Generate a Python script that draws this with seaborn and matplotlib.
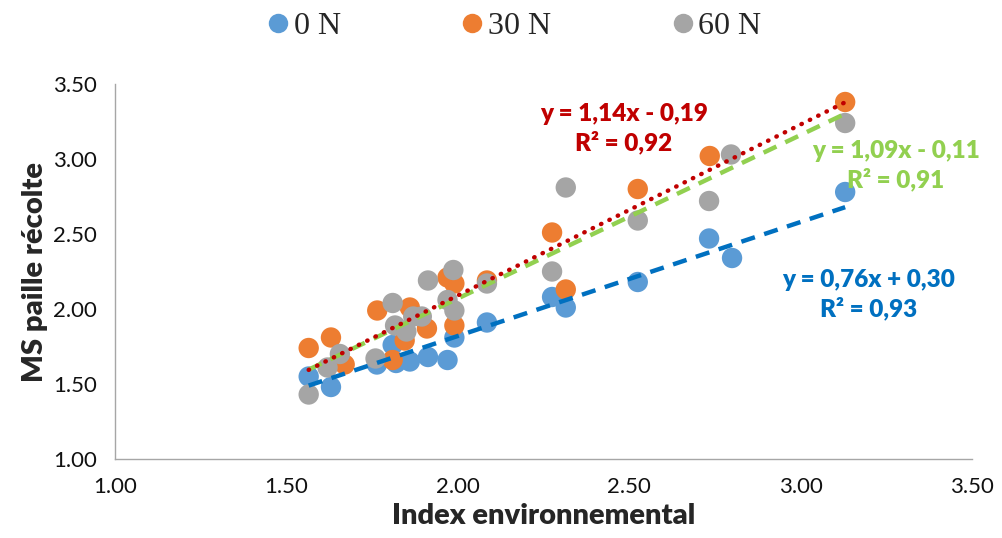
import numpy as np
import pandas as pd
import matplotlib
matplotlib.use("Agg")
import matplotlib.pyplot as plt
import seaborn as sns
from matplotlib.lines import Line2D

# ---- data ----
x_0N = [1.565, 1.63, 1.764, 1.81, 1.82, 1.86, 1.913, 1.97, 1.99, 2.085, 2.275, 2.315, 2.525, 2.733, 2.80, 3.13]
y_0N = [1.55, 1.48, 1.63, 1.76, 1.64, 1.65, 1.68, 1.66, 1.81, 1.91, 2.08, 2.01, 2.18, 2.47, 2.34, 2.78]

x_30N = [1.565, 1.63, 1.67, 1.765, 1.81, 1.845, 1.86, 1.91, 1.97, 1.99, 1.99, 2.085, 2.275, 2.315, 2.525, 2.735, 3.13]
y_30N = [1.74, 1.81, 1.63, 1.99, 1.66, 1.79, 2.01, 1.87, 2.21, 2.17, 1.89, 2.19, 2.51, 2.13, 2.80, 3.02, 3.38]

x_60N = [1.565, 1.62, 1.656, 1.76, 1.81, 1.817, 1.85, 1.87, 1.895, 1.913, 1.97, 1.987, 1.99, 2.085, 2.275, 2.315, 2.525, 2.733, 2.797, 3.13]
y_60N = [1.43, 1.61, 1.70, 1.67, 2.04, 1.89, 1.85, 1.95, 1.95, 2.19, 2.06, 2.26, 1.99, 2.17, 2.25, 2.81, 2.59, 2.72, 3.03, 3.24]

series_names = ["0 N", "30 N", "60 N"]
slopes = [0.76, 1.14, 1.09]
intercepts = [0.30, -0.19, -0.11]
eq_labels = ["y = 0,76x + 0,30\nR² = 0,93", "y = 1,14x - 0,19\nR² = 0,92", "y = 1,09x - 0,11\nR² = 0,91"]
x_ticks = [1.00, 1.50, 2.00, 2.50, 3.00, 3.50]
y_ticks = [1.00, 1.50, 2.00, 2.50, 3.00, 3.50]

point_colors = ["#5B9BD5", "#ED7D31", "#A5A5A5"]
line_colors = ["#0070C0", "#C00000", "#92D050"]
line_styles = [(0, (3.2, 2.2)), (0, (0.1, 2.0)), (0, (3.2, 2.2))]
eq_pos = [(869, 295), (624, 129), (896, 166)]  # pixel centers

df = pd.concat([
    pd.DataFrame({"x": x_0N, "y": y_0N, "s": "0 N"}),
    pd.DataFrame({"x": x_30N, "y": y_30N, "s": "30 N"}),
    pd.DataFrame({"x": x_60N, "y": y_60N, "s": "60 N"}),
])

sns.set_style("white")
plt.rcParams["font.family"] = ["Lato", "DejaVu Sans"]

W, H = 1003, 538
fig = plt.figure(figsize=(W / 100, H / 100), dpi=100)
ax = fig.add_axes([115 / W, 1 - 459 / H, (972 - 115) / W, (459 - 84) / H])

sns.scatterplot(data=df, x="x", y="y", hue="s", palette=point_colors,
                hue_order=series_names, s=215, edgecolor="none", linewidth=0,
                alpha=1, ax=ax, legend=False, zorder=2)

xs_all = [x_0N, x_30N, x_60N]
for i in range(3):
    xx = np.array([min(xs_all[i]), max(xs_all[i])])
    yy = slopes[i] * xx + intercepts[i]
    sns.lineplot(x=xx, y=yy, ax=ax, color=line_colors[i], linewidth=3.2,
                 linestyle=line_styles[i], zorder=3 + (1 if i == 1 else 0), estimator=None,
                 dash_capstyle="round" if i == 1 else "butt")

ax.set_xlim(1.0, 3.5)
ax.set_ylim(1.0, 3.5)
ax.set_xticks(x_ticks)
ax.set_yticks(y_ticks)
ax.set_xticklabels([f"{v:.2f}" for v in x_ticks], fontsize=16, color="#111111")
ax.set_yticklabels([f"{v:.2f}" for v in y_ticks], fontsize=16, color="#111111")
ax.tick_params(axis="both", direction="out", length=6, width=1, color="#A6A6A6", pad=7)
for side in ["top", "right"]:
    ax.spines[side].set_visible(False)
for side in ["left", "bottom"]:
    ax.spines[side].set_color("#A6A6A6")
    ax.spines[side].set_linewidth(1)
ax.set_xlabel("Index environnemental", fontsize=21, fontweight="heavy", labelpad=4)
ax.set_ylabel("MS paille récolte", fontsize=21, fontweight="heavy", labelpad=4)
ax.grid(False)

for i in range(3):
    px, py = eq_pos[i]
    fig.text(px / W, 1 - py / H, eq_labels[i], ha="center", va="center",
             fontsize=17.5, fontweight="heavy", color=line_colors[i], linespacing=1.3)

handles = [Line2D([0], [0], marker="o", linestyle="none", markersize=14,
                  markerfacecolor=c, markeredgecolor="none") for c in point_colors]
fig.legend(handles, series_names, loc="center", bbox_to_anchor=(512 / W, 1 - 26 / H),
           ncol=3, frameon=False, handletextpad=0.0, handlelength=1.0, columnspacing=3.6,
           prop={"family": "Liberation Serif", "size": 23})

fig.savefig("out.png", dpi=100)
